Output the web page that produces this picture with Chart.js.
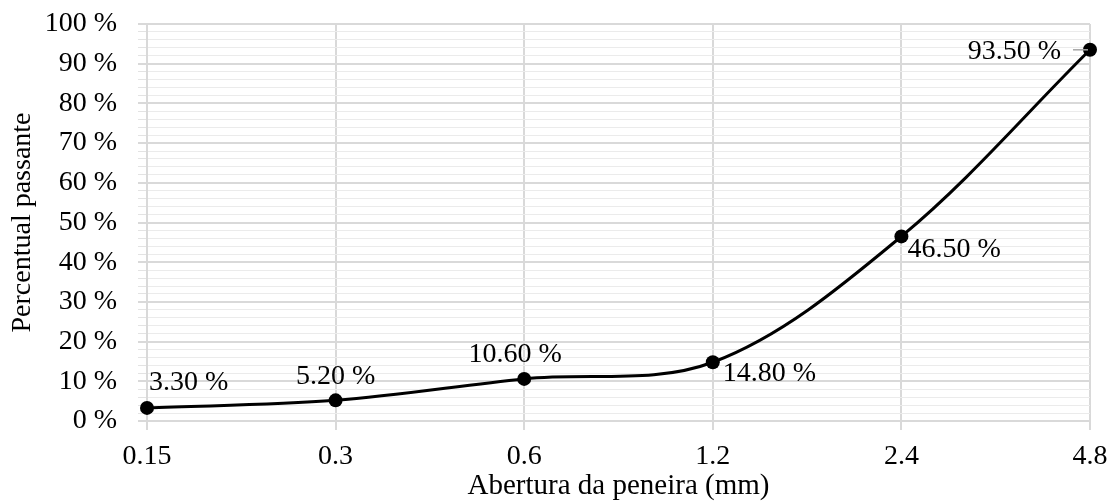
<!DOCTYPE html>
<html lang="pt">
<head>
<meta charset="utf-8">
<title>Curva granulométrica</title>
<script src="https://cdn.jsdelivr.net/npm/chart.js@4/dist/chart.umd.min.js"></script>
<style>
  html, body { margin: 0; padding: 0; background: #ffffff; }
  #wrap { width: 1116px; height: 504px; }
</style>
</head>
<body>
<div id="wrap"><canvas id="grafico" width="1116" height="504"></canvas></div>
<script>
// Aberturas das peneiras (mm) e percentuais passantes
const aberturas = ['0.15', '0.3', '0.6', '1.2', '2.4', '4.8'];
const passante = [3.3, 5.2, 10.6, 14.8, 46.5, 93.5];

// Posição de cada rótulo de valor em relação ao seu ponto
const rotuloLayout = [
  { align: 'left',   dx: 2,   dy: -25 },
  { align: 'center', dx: 0,   dy: -24 },
  { align: 'center', dx: -9,  dy: -24 },
  { align: 'left',   dx: 10,  dy: 11 },
  { align: 'left',   dx: 6,   dy: 13 },
  { align: 'right',  dx: -29, dy: 2, leader: true }
];

const FONTE = '"Liberation Serif", "Times New Roman", serif';
const TAM = 28;
const GRADE = '#d9d9d9';
const GRADE_MENOR = '#ebebeb';

const ehPrincipal = c => c.tick && c.tick.value % 10 === 0;

// Desenha os rótulos "xx.xx %" junto a cada ponto
const rotulosPlugin = {
  id: 'rotulos',
  afterDatasetsDraw(chart) {
    const ctx = chart.ctx;
    const meta = chart.getDatasetMeta(0);
    ctx.save();
    ctx.font = TAM + 'px ' + FONTE;
    ctx.fillStyle = '#000000';
    ctx.textBaseline = 'middle';
    meta.data.forEach((pt, i) => {
      const lay = rotuloLayout[i];
      const txt = passante[i].toFixed(2) + ' %';
      const x = pt.x + lay.dx;
      const y = pt.y + lay.dy;
      if (lay.leader) {
        ctx.strokeStyle = '#a6a6a6';
        ctx.lineWidth = 1.5;
        ctx.beginPath();
        ctx.moveTo(x + 12, pt.y);
        ctx.lineTo(pt.x - 2, pt.y);
        ctx.stroke();
      }
      ctx.textAlign = lay.align;
      ctx.fillText(txt, x, y);
    });
    ctx.restore();
  }
};

new Chart(document.getElementById('grafico'), {
  type: 'line',
  data: {
    labels: aberturas,
    datasets: [{
      data: passante,
      borderColor: '#000000',
      borderWidth: 3,
      tension: 0.34,
      pointRadius: 7,
      pointHoverRadius: 7,
      pointBackgroundColor: '#000000',
      pointBorderWidth: 0,
      fill: false,
      clip: false
    }]
  },
  options: {
    responsive: false,
    animation: false,
    events: [],
    layout: { padding: { left: 0, right: 26, top: 24, bottom: 0 } },
    plugins: {
      legend: { display: false },
      tooltip: { enabled: false }
    },
    scales: {
      x: {
        type: 'category',
        offset: false,
        grid: {
          color: GRADE,
          lineWidth: 2,
          drawTicks: true,
          tickLength: 9,
          tickColor: GRADE,
          offset: false
        },
        border: { color: GRADE, width: 2 },
        ticks: {
          color: '#000000',
          font: { family: FONTE, size: TAM },
          padding: 10,
          maxRotation: 0,
          autoSkip: false
        },
        title: {
          display: true,
          text: 'Abertura da peneira (mm)',
          color: '#000000',
          font: { family: FONTE, size: 29 },
          padding: { top: 0, bottom: 0 }
        },
        afterFit(scale) {
          scale.height = 83;
          scale.paddingLeft = 0;
          scale.paddingRight = 0;
        }
      },
      y: {
        min: 0,
        max: 100,
        z: -1,
        grid: {
          color: c => ehPrincipal(c) ? GRADE : GRADE_MENOR,
          lineWidth: c => ehPrincipal(c) ? 2 : 1,
          drawTicks: true,
          tickLength: 9,
          tickColor: c => ehPrincipal(c) ? GRADE : '#e3e3e3',
          tickWidth: c => ehPrincipal(c) ? 2 : 1
        },
        border: { color: GRADE, width: 2 },
        ticks: {
          stepSize: 2,
          autoSkip: false,
          color: '#000000',
          font: { family: FONTE, size: TAM },
          padding: 21,
          callback: v => (v % 10 === 0) ? v + ' %' : ''
        },
        title: {
          display: true,
          text: 'Percentual passante',
          color: '#000000',
          font: { family: FONTE, size: TAM },
          padding: { top: 6, bottom: 0 }
        },
        afterFit(scale) {
          scale.width = 147;
          scale.paddingTop = 0;
          scale.paddingBottom = 0;
        }
      }
    }
  },
  plugins: [rotulosPlugin]
});
</script>
</body>
</html>
